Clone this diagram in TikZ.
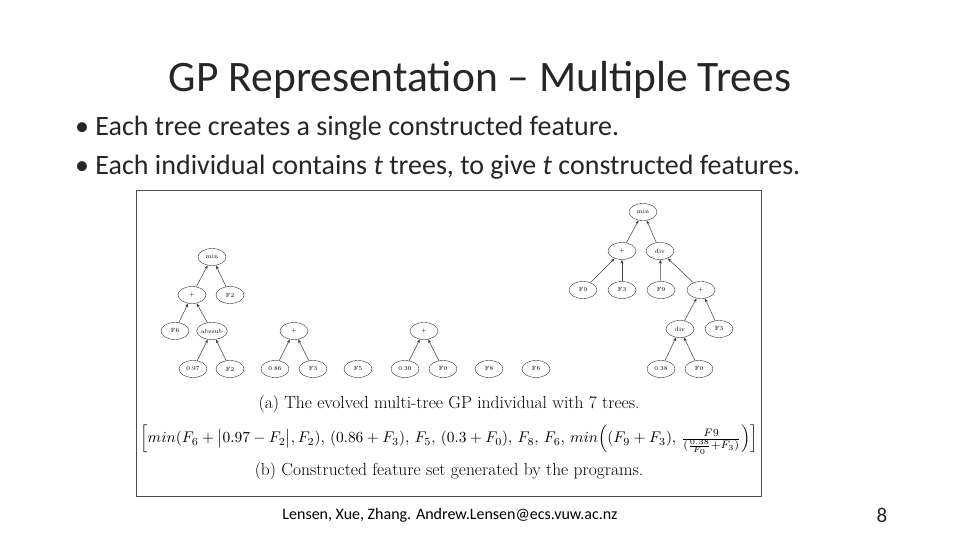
\documentclass[tikz,border=0pt]{standalone}
\usepackage{fontspec}
\usepackage{amsmath}
\usetikzlibrary{arrows.meta,shapes.geometric}
\newfontfamily\calib{Carlito}
\begin{document}
\begin{tikzpicture}[x=1pt,y=-1pt,
  tn/.style={draw=black!80,ellipse,minimum width=28pt,minimum height=17pt,inner sep=0pt,font=\fontsize{6}{6}\selectfont},
  ed/.style={-{Stealth[length=4pt,width=3pt]},black!75,line width=0.5pt}]
\useasboundingbox (0,0) rectangle (960,540);
\fill[white] (0,0) rectangle (960,540);
\node[font=\calib\fontsize{43.5}{46}\selectfont,text=black!85] (title) at (480,80) {GP Representation – Multiple Trees};
\node[anchor=west,font=\calib\fontsize{28}{30}\selectfont,text=black!85,inner sep=0pt] (b1) at (75,128) {• Each tree creates a single constructed feature.};
\node[anchor=west,font=\calib\fontsize{28}{30}\selectfont,text=black!85,inner sep=0pt] (b2) at (75,167) {• Each individual contains \textit{t} trees, to give \textit{t} constructed features.};
\node[draw=black!70,line width=0.8pt,minimum width=625pt,minimum height=306pt,inner sep=0pt] (frame) at (448.5,343) {};
% tree 1
\node[tn] (m1) at (212,257) {min};
\node[tn] (p1) at (192,295) {+};
\node[tn] (f2a) at (230,295) {F2};
\node[tn] (f6a) at (175,331) {F6};
\node[tn] (ab) at (212,331) {abssub};
\node[tn] (c97) at (193,369) {0.97};
\node[tn] (f2b) at (230,369) {F2};
\draw[ed] (p1) -- (m1); \draw[ed] (f2a) -- (m1);
\draw[ed] (f6a) -- (p1); \draw[ed] (ab) -- (p1);
\draw[ed] (c97) -- (ab); \draw[ed] (f2b) -- (ab);
% tree 2
\node[tn] (p2) at (294,331) {+};
\node[tn] (c86) at (275,369) {0.86};
\node[tn] (f3a) at (313,369) {F3};
\draw[ed] (c86) -- (p2); \draw[ed] (f3a) -- (p2);
\node[tn] (f5a) at (358,369) {F5};
% tree 4
\node[tn] (p4) at (424,331) {+};
\node[tn] (c30) at (405,369) {0.30};
\node[tn] (f0a) at (443,369) {F0};
\draw[ed] (c30) -- (p4); \draw[ed] (f0a) -- (p4);
\node[tn] (f8a) at (489,369) {F8};
\node[tn] (f6b) at (536,369) {F6};
% tree 7
\node[tn] (m7) at (643,212) {min};
\node[tn] (p7) at (622,251) {+};
\node[tn] (d7) at (660,251) {div};
\node[tn] (f9a) at (583,290) {F9};
\node[tn] (f3b) at (622,290) {F3};
\node[tn] (f9b) at (661,290) {F9};
\node[tn] (p7b) at (701,290) {+};
\node[tn] (d7b) at (680,329) {div};
\node[tn] (f3c) at (719,329) {F3};
\node[tn] (c38) at (661,369) {0.38};
\node[tn] (f0b) at (699,369) {F0};
\draw[ed] (p7) -- (m7); \draw[ed] (d7) -- (m7);
\draw[ed] (f9a) -- (p7); \draw[ed] (f3b) -- (p7);
\draw[ed] (f9b) -- (d7); \draw[ed] (p7b) -- (d7);
\draw[ed] (d7b) -- (p7b); \draw[ed] (f3c) -- (p7b);
\draw[ed] (c38) -- (d7b); \draw[ed] (f0b) -- (d7b);
% captions
\node[font=\fontsize{17.5}{20}\selectfont,inner sep=0pt] (capa) at (449,404) {(a) The evolved multi-tree GP individual with 7 trees.};
\node[inner sep=0pt] (form) at (449,440) {\resizebox{617pt}{!}{$\Big[min(F_6+\big|0.97-F_2\big|,F_2),\,(0.86+F_3),\,F_5,\,(0.3+F_0),\,F_8,\,F_6,\,min\Big((F_9+F_3),\,\frac{F9}{(\frac{0.38}{F_0}+F_3)}\Big)\Big]$}};
\node[font=\fontsize{17.5}{20}\selectfont,inner sep=0pt] (capb) at (449,471) {(b) Constructed feature set generated by the programs.};
% footer
\node[font=\calib\fontsize{16}{18}\selectfont] (foot) at (450,515) {Lensen, Xue, Zhang. Andrew.Lensen@ecs.vuw.ac.nz};
\node[font=\calib\fontsize{21}{22}\selectfont,text=black!85] (pg) at (882,515) {8};
\end{tikzpicture}
\end{document}
